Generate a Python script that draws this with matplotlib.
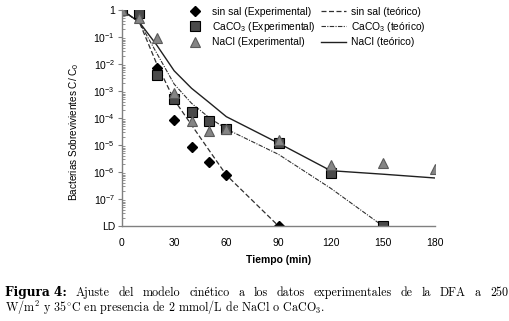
import matplotlib
matplotlib.use("Agg")
import matplotlib.pyplot as plt
import numpy as np

# ---------------- data ----------------
t_sinsal_exp = [0, 10, 20, 30, 40, 50, 60, 90]
v_sinsal_exp = [1, 0.8, 7.2e-3, 8.5e-5, 8.7e-6, 2.3e-6, 7.7e-7, 1e-8]

t_caco3_exp = [0, 10, 20, 30, 40, 50, 60, 90, 120, 150]
v_caco3_exp = [1, 0.8, 3.9e-3, 5.0e-4, 1.66e-4, 7.8e-5, 3.9e-5, 1.18e-5, 9.5e-7, 1e-8]

t_nacl_exp = [0, 10, 20, 30, 40, 50, 60, 90, 120, 150, 180]
v_nacl_exp = [1, 0.5, 0.089, 8.7e-4, 8.0e-5, 3.4e-5, 3.8e-5, 1.5e-5, 1.8e-6, 2.1e-6, 1.3e-6]

t_sinsal_teo = [0, 10, 20, 30, 40, 50, 60, 90]
v_sinsal_teo = [1, 0.35, 1.0e-2, 4.7e-4, 5.5e-5, 6.5e-6, 7.7e-7, 1e-8]

t_caco3_teo = [0, 10, 20, 30, 40, 50, 60, 90, 120, 150]
v_caco3_teo = [1, 0.35, 2.5e-2, 1.8e-3, 3.5e-4, 1.05e-4, 3.9e-5, 4.5e-6, 2.5e-7, 1e-8]

t_nacl_teo = [0, 10, 20, 30, 40, 50, 60, 90, 120, 150, 180]
v_nacl_teo = [1, 0.35, 5.0e-2, 5.6e-3, 1.26e-3, 3.8e-4, 1.12e-4, 1.17e-5, 1.12e-6, 8.3e-7, 6.0e-7]

x_ticks = [0, 30, 60, 90, 120, 150, 180]
y_ticks = [1, 1e-1, 1e-2, 1e-3, 1e-4, 1e-5, 1e-6, 1e-7, 1e-8]
y_ticklabels = ["1", r"$\mathregular{10^{-1}}$", r"$\mathregular{10^{-2}}$",
                r"$\mathregular{10^{-3}}$", r"$\mathregular{10^{-4}}$",
                r"$\mathregular{10^{-5}}$", r"$\mathregular{10^{-6}}$",
                r"$\mathregular{10^{-7}}$", "LD"]

labels_exp = ["sin sal (Experimental)", r"CaCO$\mathregular{_3}$ (Experimental)", "NaCl (Experimental)"]
labels_teo = ["sin sal (teórico)", r"CaCO$\mathregular{_3}$ (teórico)", "NaCl (teórico)"]

# ---------------- figure ----------------
plt.rcParams['font.family'] = ['Liberation Sans', 'DejaVu Sans']
plt.rcParams['mathtext.fontset'] = 'cm'
W, H = 510, 321
fig = plt.figure(figsize=(W / 100, H / 100), dpi=100)
ax = fig.add_axes([122 / W, 1 - 226 / H, (435 - 122) / W, (226 - 10) / H])

l1, = ax.plot(t_sinsal_teo, v_sinsal_teo, color='#303030', lw=0.9, ls=(0, (4, 2)))
l2, = ax.plot(t_caco3_teo, v_caco3_teo, color='#303030', lw=0.8, ls=(0, (4, 1.2, 1, 1.2)))
l3, = ax.plot(t_nacl_teo, v_nacl_teo, color='#202020', lw=1.0, ls='-')

m1, = ax.plot(t_sinsal_exp, v_sinsal_exp, ls='none', marker='D', ms=5, color='black', mec='black')
m2, = ax.plot(t_caco3_exp, v_caco3_exp, ls='none', marker='s', ms=6.5, color='#4a4a4a', mec='black', mew=0.8)
m3, = ax.plot(t_nacl_exp, v_nacl_exp, ls='none', marker='^', ms=7, color='#858585', mec='#5a5a5a', mew=0.8)

ax.set_yscale('log')
ax.set_xlim(0, 180)
ax.set_ylim(1e-8, 1)
ax.set_xticks(x_ticks)
ax.set_xticklabels([str(v) for v in x_ticks])
ax.set_yticks(y_ticks)
ax.set_yticklabels(y_ticklabels)
ax.yaxis.set_minor_locator(matplotlib.ticker.LogLocator(base=10, subs=np.arange(2, 10), numticks=20))
ax.yaxis.set_minor_formatter(matplotlib.ticker.NullFormatter())

for s in ['top', 'right']:
    ax.spines[s].set_visible(False)
for s in ['left', 'bottom']:
    ax.spines[s].set_color('#808080')
    ax.spines[s].set_linewidth(1.0)

ax.tick_params(axis='x', length=0, pad=9, labelsize=7.5)
ax.tick_params(axis='y', which='major', length=3, direction='out', color='#808080', pad=2, labelsize=7.5)
ax.tick_params(axis='y', which='minor', length=2, direction='in', color='#808080', width=0.6)

ax.set_ylabel(r"Bacterias Sobrevivientes C/ C$\mathregular{_0}$", fontsize=7.2)
ax.yaxis.set_label_coords(-0.131, 0.435)
ax.set_xlabel("Tiempo (min)", fontsize=7.5, fontweight='bold')
ax.xaxis.set_label_coords(0.5, -0.135)

handles = [m1, m2, m3, l1, l2, l3]
labels = labels_exp + labels_teo
fig.legend(handles, labels, ncol=2, loc='upper left', bbox_to_anchor=(182 / W, 1 - 7 / H),
           frameon=False, fontsize=7.4, handlelength=2.5, handletextpad=0.4, columnspacing=0.5,
           labelspacing=0.3, borderpad=0, borderaxespad=0, numpoints=1)

# ---------------- caption ----------------
renderer = fig.canvas.get_renderer()
serif = ['cmr10', 'Liberation Serif', 'DejaVu Serif']
cap_fs = 8.7
y1 = 1 - 296 / H
y2 = 1 - 311 / H

fig.text(5 / W, y2, r"W/m$^2$ y 35$^{\circ}$C en presencia de 2 mmol/L de NaCl o CaCO$_3$.",
         fontsize=cap_fs, family=serif, va='baseline')

bold = fig.text(5 / W, y1, "Figura 4:", fontsize=cap_fs, family=['DejaVu Serif'],
                fontweight='bold', va='baseline')
words = ["Ajuste", "del", "modelo", "cinético", "a", "los", "datos", "experimentales",
         "de", "la", "DFA", "a", "250"]
objs = [fig.text(0, y1, w, fontsize=cap_fs, family=serif, va='baseline') for w in words]
wb = bold.get_window_extent(renderer).width
ws = [o.get_window_extent(renderer).width for o in objs]
x_end = 508
gap = (x_end - 5 - wb - sum(ws)) / len(words)
x = 5 + wb + gap
for o, w in zip(objs, ws):
    o.set_x(x / W)
    x += w + gap

fig.savefig("out.png", dpi=100)
